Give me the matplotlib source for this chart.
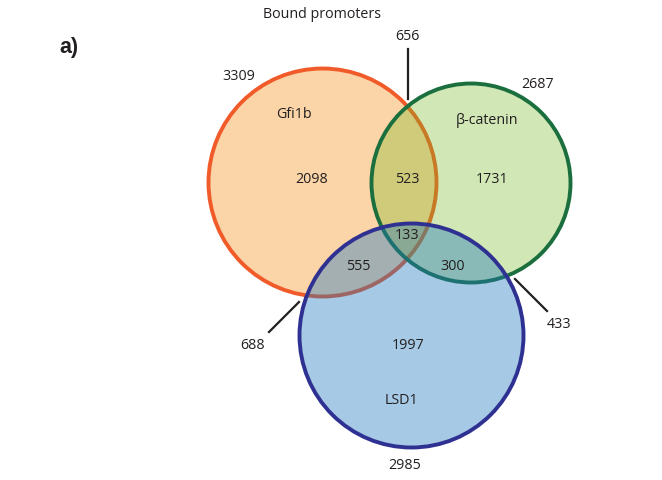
import matplotlib.pyplot as plt
from matplotlib.patches import Circle

# promoter sets: name, total bound, fill / alpha, edge colour
set_names = ['Gfi1b', 'β-catenin', 'LSD1']
set_totals = [3309, 2687, 2985]
fill_colors = ['#fbd5a7', '#76b91f', '#2178be']
fill_alphas = [1.0, 0.33, 0.40]
edge_colors = ['#f15a29', '#1b6e3d', '#2e3192']

# region counts
only_counts = [2098, 1731, 1997]
pair_labels = ['Gfi1b & β-catenin', 'Gfi1b & LSD1', 'β-catenin & LSD1']
pair_counts = [523, 555, 300]
triple_count = 133
pair_totals = [656, 688, 433]

# layout in pixel units (y down)
centers = [(322.5, 183.5), (471, 184), (411.5, 336.5)]
radii = [114, 99.5, 112]

fig = plt.figure(figsize=(6.62, 4.81), dpi=100)
ax = fig.add_axes([0, 0, 1, 1])
ax.set_xlim(0, 662)
ax.set_ylim(481, 0)
ax.set_aspect('equal')
ax.axis('off')

for i in range(3):
    ax.add_patch(Circle(centers[i], radii[i], facecolor=fill_colors[i],
                        alpha=fill_alphas[i], edgecolor='none', zorder=2 * i + 1))
    ax.add_patch(Circle(centers[i], radii[i], facecolor='none',
                        edgecolor=edge_colors[i], linewidth=2.8, zorder=2 * i + 2))

font = 'Open Sans'
txt = dict(ha='center', va='center', fontsize=10.3, color='#231f20',
           family=font, zorder=10)

ax.text(322, 15, 'Bound promoters', **txt)
ax.text(69, 47, 'a)', ha='center', va='center', fontsize=15.5,
        fontweight='bold', family='Liberation Sans', color='#231f20')

# set labels and totals
ax.text(294, 115, set_names[0], **txt)
ax.text(487, 121, set_names[1], **txt)
ax.text(401, 401, set_names[2], **txt)
ax.text(239, 77, str(set_totals[0]), **txt)
ax.text(538, 84, str(set_totals[1]), **txt)
ax.text(405, 466, str(set_totals[2]), **txt)

# region counts
ax.text(312, 180, str(only_counts[0]), **txt)
ax.text(492, 180, str(only_counts[1]), **txt)
ax.text(408, 346, str(only_counts[2]), **txt)
ax.text(407, 180, str(pair_counts[0]), **txt)
ax.text(358, 267, str(pair_counts[1]), **txt)
ax.text(453, 267, str(pair_counts[2]), **txt)
ax.text(407, 236, str(triple_count), **txt)

# pairwise totals with leader lines
ax.text(407, 37, str(pair_totals[0]), **txt)
ax.plot([408, 408], [50, 100], color='#231f20', lw=1.6, zorder=10)
ax.text(253, 346, str(pair_totals[1]), **txt)
ax.plot([269, 299], [333, 303], color='#231f20', lw=1.6, zorder=10)
ax.text(559, 325, str(pair_totals[2]), **txt)
ax.plot([515, 547], [280, 312], color='#231f20', lw=1.6, zorder=10)

fig.savefig('out.png', dpi=100)
